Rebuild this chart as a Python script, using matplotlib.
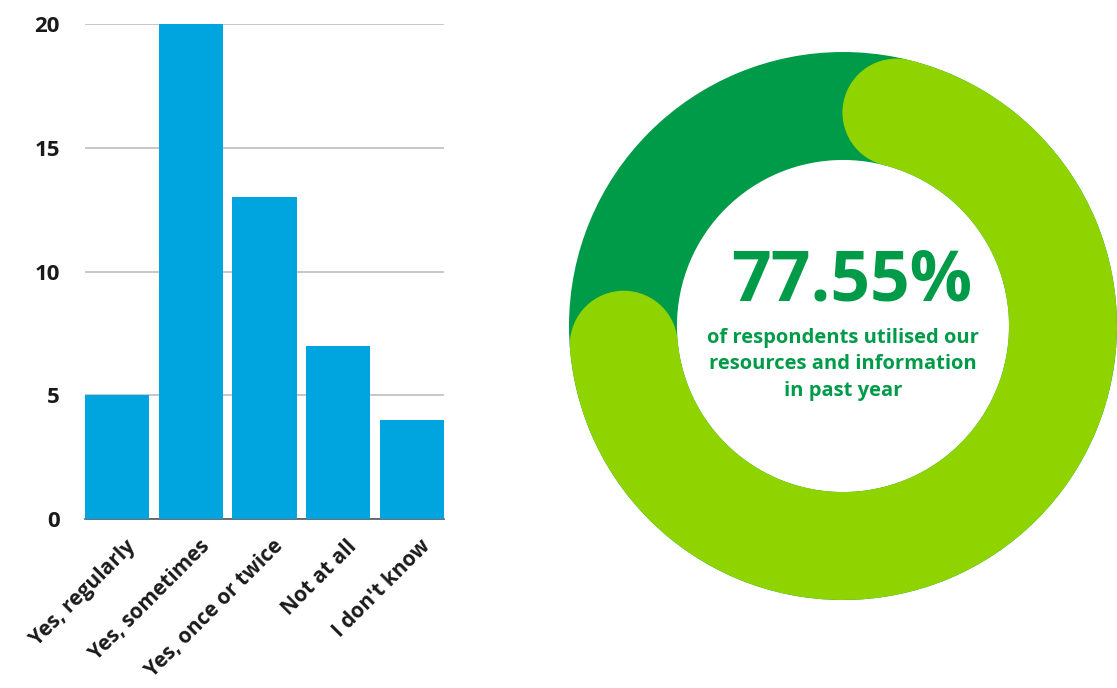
import matplotlib.pyplot as plt
import numpy as np
from matplotlib.patches import Wedge, Circle
from matplotlib.transforms import ScaledTranslation

# survey answers
categories = ["Yes, regularly", "Yes, sometimes", "Yes, once or twice", "Not at all", "I don't know"]
counts = [5, 20, 13, 7, 4]
yticks = [0, 5, 10, 15, 20]

# share of respondents who used the resources
used_pct = 77.55
caption = "of respondents utilised our\nresources and information\nin past year"

BLUE = "#00A5DF"
DARK_GREEN = "#009B48"
LIGHT_GREEN = "#8FD400"

plt.rcParams['font.family'] = ['Open Sans', 'DejaVu Sans']

fig = plt.figure(figsize=(11.17, 6.88), dpi=100)

# --- bar chart ---
ax = fig.add_axes([0.0761, 0.2456, 0.3214, 0.7195])
x = np.arange(len(categories))
width = 0.87
ax.bar(x, counts, width=width, color=BLUE, zorder=3)
ax.set_xlim(-width / 2, len(categories) - 1 + width / 2)
ax.set_ylim(0, 20)
ax.set_yticks(yticks)
ax.set_yticklabels([str(t) for t in yticks], fontsize=16, fontweight='bold', color='#1a1a1a')
ax.yaxis.grid(True, color='#BDBDBD', linewidth=1.2, zorder=0)
ax.set_axisbelow(True)
for s in ['top', 'right', 'left']:
    ax.spines[s].set_visible(False)
ax.spines['bottom'].set_color('#555555')
ax.spines['bottom'].set_linewidth(1.2)
ax.tick_params(axis='y', length=0, pad=18)
ax.tick_params(axis='x', length=0)
ax.set_xticks(x)
ax.set_xticklabels(categories, rotation=45, ha='right', rotation_mode='anchor',
                   fontsize=15, fontweight='bold', color='#1a1a1a')
shift = ScaledTranslation(8 / 100, -12 / 100, fig.dpi_scale_trans)
for lbl in ax.get_xticklabels():
    lbl.set_transform(lbl.get_transform() + shift)

# --- donut ---
ax2 = fig.add_axes([0.5094, 0.1279, 0.4906, 0.7965])
ax2.set_xlim(-1, 1)
ax2.set_ylim(-1, 1)
ax2.set_aspect('equal')
ax2.axis('off')

r_out = 1.0
r_in = 0.606
ring_w = r_out - r_in
r_mid = (r_out + r_in) / 2
cap_r = ring_w / 2

ax2.add_patch(Wedge((0, 0), r_out, 0, 360, width=ring_w, color=DARK_GREEN, linewidth=0))

# light arc runs clockwise from 12 o'clock, round caps included in its extent
span = 360 * used_pct / 100
cap_deg = np.degrees(cap_r / r_mid)
start = 90 - cap_deg
end = 90 - span + cap_deg
ax2.add_patch(Wedge((0, 0), r_out, end, start, width=ring_w, color=LIGHT_GREEN, linewidth=0))
for a in (start, end):
    t = np.radians(a)
    ax2.add_patch(Circle((r_mid * np.cos(t), r_mid * np.sin(t)), cap_r, color=LIGHT_GREEN, linewidth=0))

ax2.text(0.03, 0.16, f"{used_pct:.2f}%", ha='center', va='center', fontsize=50,
         fontweight='bold', color=DARK_GREEN)
ax2.text(0.0, -0.14, caption, ha='center', va='center', fontsize=14.5,
         fontweight='bold', color=DARK_GREEN, linespacing=1.45)

fig.savefig("out.png", dpi=100)
